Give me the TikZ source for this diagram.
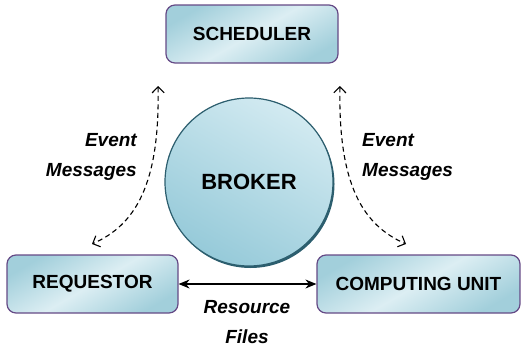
\documentclass[tikz,border=0pt]{standalone}
\usepackage{fontspec}
\setmainfont{Liberation Sans}
\usetikzlibrary{arrows.meta}

\definecolor{boxedge}{HTML}{654A86}
\definecolor{boxlight}{HTML}{DCEEF3}
\definecolor{boxdark}{HTML}{A2CFDB}
\definecolor{balledge}{HTML}{2C5E6E}
\definecolor{balllight}{HTML}{D2EAF1}
\definecolor{balldark}{HTML}{96CAD9}

\tikzset{
  x=1pt, y=-1pt,
  unitbox/.style={draw=boxedge, line width=1.2pt, rounded corners=9pt,
    left color=boxdark, right color=boxdark, middle color=boxlight,
    shading angle=30, inner sep=0pt,
    font=\fontsize{19}{22}\selectfont\bfseries},
  ball/.style={circle, draw=balledge, line width=1.2pt,
    top color=balllight, bottom color=balldark, shading angle=-30,
    inner sep=0pt, minimum size=168pt,
    font=\fontsize{22}{26}\selectfont\bfseries},
  msglabel/.style={font=\fontsize{19}{30}\selectfont\bfseries\itshape, inner sep=0pt},
  eventflow/.style={dashed, line width=1.1pt, dash pattern=on 5pt off 3.5pt,
    {Straight Barb[length=6pt,width=12pt]}-{Straight Barb[length=6pt,width=12pt]}},
  fileflow/.style={line width=1.1pt, {Stealth[length=11pt,width=9pt]}-{Stealth[length=11pt,width=9pt]}}
}

\begin{document}
\begin{tikzpicture}
\useasboundingbox (0,0) rectangle (521,348);

% broker with its darker rim underneath
\fill[balledge] (250.5,184) circle (84);
\node[ball] (broker) at (249,182) {BROKER};

% the three parties
\node[unitbox, minimum width=172pt, minimum height=58pt] (sched) at (252,34) {SCHEDULER};
\node[unitbox, minimum width=171pt, minimum height=58pt] (req) at (92.5,284) {REQUESTOR};
\node[unitbox, minimum width=203pt, minimum height=58pt] (cu) at (418.5,284) {COMPUTING UNIT};

% free ends of the event-message links
\coordinate (lt) at (158,86);
\coordinate (lb) at (92,244);
\coordinate (rt) at (340,86);
\coordinate (rb) at (406,244);

\draw[eventflow] (lt) .. controls (160,185) and (135,225) .. (lb);
\draw[eventflow] (rt) .. controls (338,185) and (363,225) .. (rb);

% resource files between requestor and computing unit
\draw[fileflow] (req.east) -- (cu.west);

% labels
\node[msglabel, align=right, anchor=east] (evl) at (137,157) {Event\\Messages};
\node[msglabel, align=left, anchor=west] (evr) at (362,157) {Event\\Messages};
\node[msglabel, align=center] (res) at (247,322) {Resource\\Files};
\end{tikzpicture}
\end{document}
